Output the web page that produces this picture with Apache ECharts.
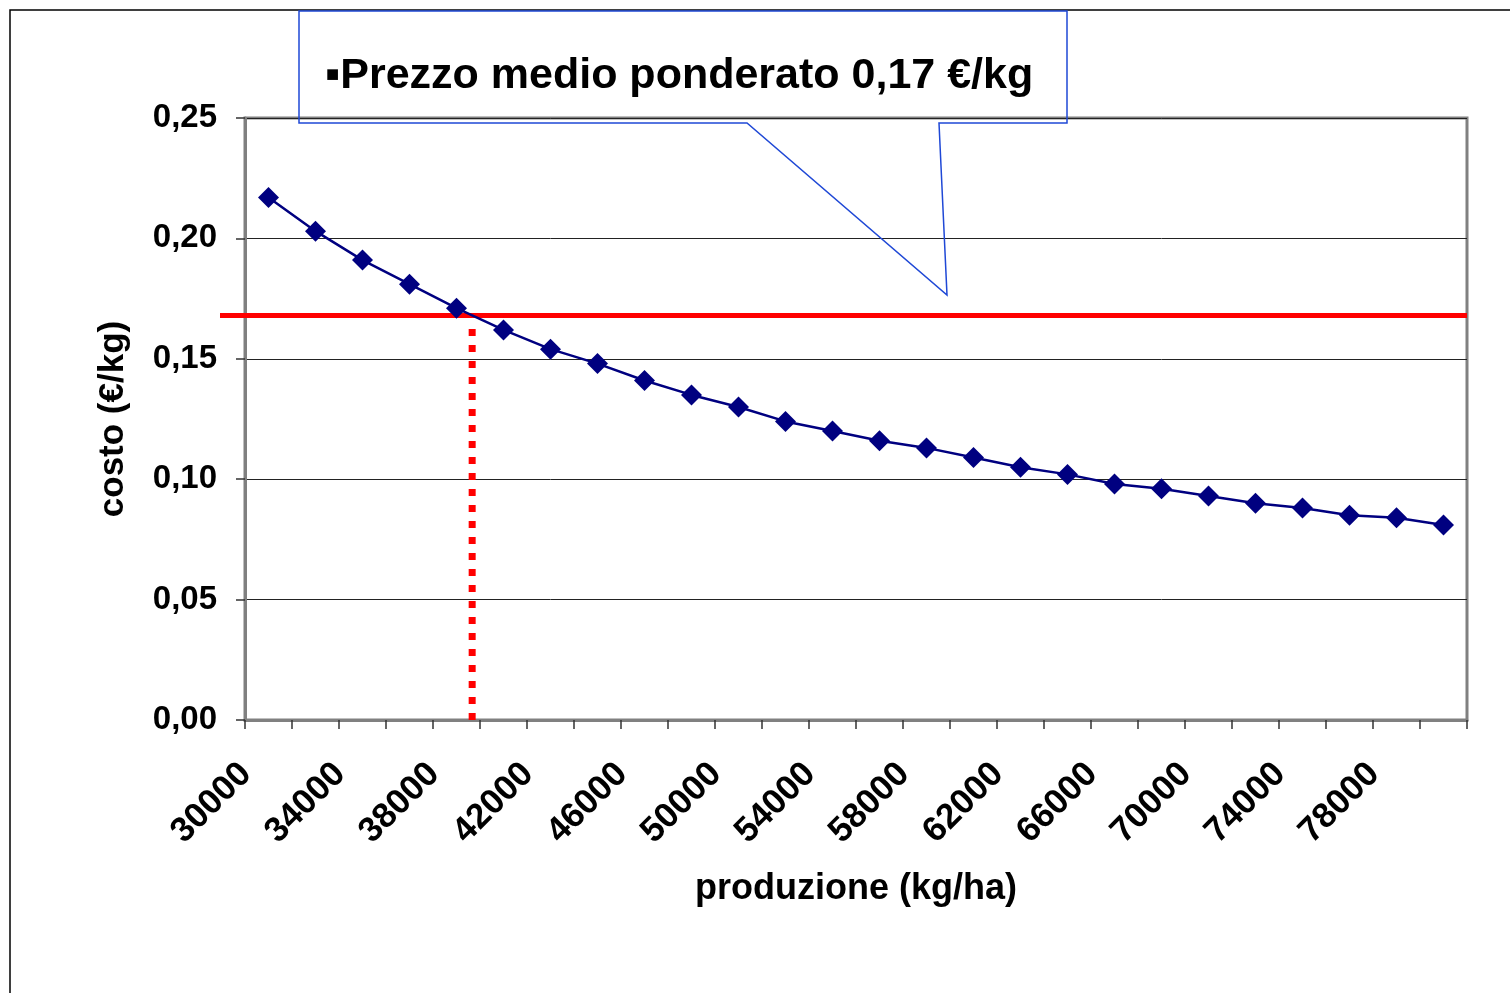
<!DOCTYPE html>
<html>
<head>
<meta charset="utf-8">
<script src="https://cdn.jsdelivr.net/npm/echarts@6/dist/echarts.min.js"></script>
<style>
  html, body { margin: 0; padding: 0; background: #fff; }
  #chart { width: 1510px; height: 993px; }
</style>
</head>
<body>
<div id="chart"></div>
<script>
// produzione (kg/ha)
var produzione = ['30000', '32000', '34000', '36000', '38000', '40000', '42000', '44000', '46000',
  '48000', '50000', '52000', '54000', '56000', '58000', '60000', '62000', '64000', '66000',
  '68000', '70000', '72000', '74000', '76000', '78000', '80000']
// costo (€/kg)
var costo = [0.217, 0.203, 0.191, 0.181, 0.171, 0.162, 0.154, 0.148, 0.141, 0.135, 0.130,
  0.124, 0.120, 0.116, 0.113, 0.109, 0.105, 0.102, 0.098, 0.096, 0.093, 0.090, 0.088,
  0.085, 0.084, 0.081]
// prezzo medio ponderato
var prezzo = 0.168
var yTicks = [0, 0.25, 0.05]

// punto in cui la curva incrocia il prezzo (indice frazionario)
var incrocio = 0
for (var i = 0; i < costo.length - 1; i++) {
  if (costo[i] >= prezzo && costo[i + 1] < prezzo) {
    incrocio = i + (costo[i] - prezzo) / (costo[i] - costo[i + 1])
    break
  }
}

var font = 'Liberation Sans, Arial, sans-serif'
var myChart = echarts.init(document.getElementById('chart'))

var option = {
  backgroundColor: '#fff',
  animation: false,
  grid: [
    { left: 245, right: 43, top: 118, bottom: 273, show: true, borderColor: '#808080', borderWidth: 3 },
    { left: 220, right: 43, top: 118, bottom: 273 }
  ],
  xAxis: [
    {
      type: 'category',
      gridIndex: 0,
      data: produzione,
      boundaryGap: true,
      name: 'produzione (kg/ha)',
      nameLocation: 'middle',
      nameGap: 151,
      nameTextStyle: { fontFamily: font, fontWeight: 'bold', fontSize: 36, color: '#000' },
      axisLine: { onZero: false, lineStyle: { color: '#808080', width: 3 } },
      axisTick: { show: true, interval: 0, length: 9, lineStyle: { color: '#333', width: 1.5 } },
      axisLabel: {
        interval: 1,
        rotate: 45,
        margin: 26,
        padding: [0, 32, 0, 0],
        fontFamily: font,
        fontWeight: 'bold',
        fontSize: 35,
        color: '#000'
      },
      splitLine: { show: false }
    },
    {
      type: 'value',
      gridIndex: 0,
      min: -0.5,
      max: produzione.length - 0.5,
      show: false
    },
    {
      type: 'value',
      gridIndex: 1,
      min: 0,
      max: 1,
      show: false
    }
  ],
  yAxis: [
    {
      type: 'value',
      gridIndex: 0,
      min: yTicks[0],
      max: yTicks[1],
      interval: yTicks[2],
      name: 'costo (€/kg)',
      nameLocation: 'middle',
      nameGap: 114,
      nameTextStyle: { fontFamily: font, fontWeight: 'bold', fontSize: 35, color: '#000' },
      axisLine: { show: true, onZero: false, lineStyle: { color: '#808080', width: 3 } },
      axisTick: { show: true, length: 9, lineStyle: { color: '#333', width: 1.5 } },
      axisLabel: {
        margin: 28,
        fontFamily: font,
        fontWeight: 'bold',
        fontSize: 33,
        color: '#000',
        formatter: function (v) { return v.toFixed(2).replace('.', ',') }
      },
      splitLine: { show: true, lineStyle: { color: '#222', width: 1 } }
    },
    {
      type: 'value',
      gridIndex: 1,
      min: yTicks[0],
      max: yTicks[1],
      show: false
    }
  ],
  series: [
    {
      name: 'prezzo',
      type: 'line',
      xAxisIndex: 2,
      yAxisIndex: 1,
      data: [[0, prezzo], [1, prezzo]],
      symbol: 'none',
      lineStyle: { color: '#ff0000', width: 5 },
      z: 3
    },
    {
      name: 'incrocio',
      type: 'line',
      xAxisIndex: 1,
      yAxisIndex: 0,
      data: [[incrocio, 0], [incrocio, prezzo - 0.002]],
      symbol: 'none',
      lineStyle: { color: '#ff0000', width: 7, type: [7, 9], cap: 'butt' },
      z: 3
    },
    {
      name: 'costo',
      type: 'line',
      xAxisIndex: 0,
      yAxisIndex: 0,
      data: costo,
      symbol: 'diamond',
      symbolSize: 21,
      itemStyle: { color: '#000080' },
      lineStyle: { color: '#000080', width: 2.5 },
      z: 4
    }
  ],
  graphic: [
    {
      type: 'rect',
      shape: { x: 10, y: 10, width: 1600, height: 1100 },
      style: { fill: null, stroke: '#000', lineWidth: 1.5 },
      z: 1
    },
    {
      type: 'polygon',
      shape: { points: [[299, 11], [1067, 11], [1067, 123], [939, 123], [947, 295], [747, 123], [299, 123]] },
      style: { fill: null, stroke: '#1f48d6', lineWidth: 1.5 },
      z: 10
    },
    {
      type: 'text',
      x: 325,
      y: 76,
      style: {
        text: '▪Prezzo medio ponderato 0,17 €/kg',
        font: 'bold 43px ' + font,
        fill: '#000',
        verticalAlign: 'middle'
      },
      z: 10
    }
  ]
}

myChart.setOption(option)
</script>
</body>
</html>
